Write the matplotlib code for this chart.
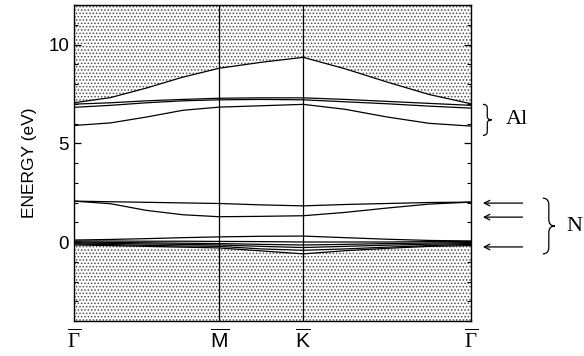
import numpy as np
import matplotlib
matplotlib.use("Agg")
import matplotlib.pyplot as plt
from matplotlib.path import Path
from matplotlib.patches import PathPatch
from matplotlib.transforms import blended_transform_factory
from matplotlib.ticker import MultipleLocator

plt.rcParams['hatch.linewidth'] = 0.7
plt.rcParams['hatch.color'] = '0.3'
plt.rcParams['mathtext.fontset'] = 'custom'
plt.rcParams['mathtext.rm'] = 'Liberation Serif'
plt.rcParams['mathtext.sf'] = 'Liberation Sans'
plt.rcParams['mathtext.it'] = 'Liberation Serif:italic'

# k-path: Gamma - M - K - Gamma (hexagonal surface BZ)
seg_len = [1.0, 1 / np.sqrt(3), 2 / np.sqrt(3)]
seg_frac = [[0, 0.25, 0.5, 0.75, 1.0], [0.5, 1.0], [0.25, 0.5, 0.75, 1.0]]
sym_labels = [r'$\overline{\Gamma}$', r'$\overline{\mathsf{M}}$',
              r'$\overline{\mathsf{K}}$', r'$\overline{\Gamma}$']

# band energies (eV) at the sampled k points
upper_edge = [7.05, 7.31, 7.8, 8.35, 8.8, 9.1, 9.35, 8.77, 8.1, 7.47, 7.0]
al_bands = [
    [6.98, 7.05, 7.15, 7.22, 7.28, 7.3, 7.3, 7.22, 7.12, 7.02, 6.92],
    [6.82, 6.92, 7.05, 7.15, 7.2, 7.22, 7.2, 7.1, 7.0, 6.88, 6.78],
    [5.9, 6.03, 6.33, 6.67, 6.83, 6.9, 6.97, 6.72, 6.33, 6.01, 5.87],
]
n_bands = [
    [2.07, 2.04, 2.01, 1.98, 1.95, 1.88, 1.83, 1.9, 1.95, 2.0, 2.02],
    [2.07, 1.94, 1.6, 1.38, 1.28, 1.3, 1.33, 1.5, 1.72, 1.92, 2.02],
]
val_bands = [
    [0.1, 0.13, 0.17, 0.22, 0.26, 0.29, 0.3, 0.22, 0.14, 0.08, 0.05],
    [0.05, 0.05, 0.04, 0.04, 0.03, 0.02, 0.0, 0.0, 0.0, 0.02, 0.03],
    [0.0, -0.02, -0.04, -0.06, -0.08, -0.12, -0.15, -0.12, -0.08, -0.05, -0.03],
    [-0.05, -0.07, -0.1, -0.12, -0.15, -0.22, -0.28, -0.22, -0.16, -0.11, -0.08],
    [-0.1, -0.13, -0.17, -0.2, -0.22, -0.35, -0.42, -0.35, -0.26, -0.18, -0.12],
]
lower_edge = [-0.15, -0.18, -0.22, -0.26, -0.3, -0.45, -0.6, -0.44, -0.32, -0.22, -0.18]

arrow_levels = [1.97, 1.26, -0.25]

# build k coordinates
k = []
start = 0.0
sym_k = [0.0]
for L, fr in zip(seg_len, seg_frac):
    k += [start + f * L for f in fr]
    start += L
    sym_k.append(start)
k = np.array(k)

fig = plt.figure(figsize=(5.84, 3.56), dpi=100)
ax = fig.add_axes([0.1267, 0.0983, 0.6798, 0.8876])
ymin, ymax = -4, 12

ax.fill_between(k, upper_edge, ymax, facecolor='white', edgecolor='0.3',
                hatch='.....', linewidth=0)
ax.fill_between(k, ymin, lower_edge, facecolor='white', edgecolor='0.3',
                hatch='.....', linewidth=0)

ax.plot(k, upper_edge, color='black', lw=0.9)
for b in al_bands + n_bands + val_bands:
    ax.plot(k, b, color='black', lw=0.9)
ax.plot(k, lower_edge, color='black', lw=0.9)

for s in sym_k[1:-1]:
    ax.axvline(s, color='black', lw=0.9)

ax.set_xlim(sym_k[0], sym_k[-1])
ax.set_ylim(ymin, ymax)
ax.set_xticks(sym_k)
ax.set_xticklabels(sym_labels, fontsize=15)
ax.tick_params(axis='x', length=0, pad=5)
ax.set_yticks([0, 5, 10])
ax.yaxis.set_minor_locator(MultipleLocator(1))
ax.tick_params(axis='y', which='major', direction='in', length=5, labelsize=13.5,
               right=True, width=0.9)
ax.tick_params(axis='y', which='minor', direction='in', length=3, right=True, width=0.8)
for sp in ax.spines.values():
    sp.set_linewidth(1.0)
ax.set_ylabel('ENERGY (eV)', fontsize=12.5, family='Liberation Sans', labelpad=8)
for lab in ax.get_yticklabels():
    lab.set_family('Liberation Sans')

# annotations (braces, arrows, labels) outside the axes
tr = blended_transform_factory(ax.transAxes, ax.transData)


def brace(x0, w, y_top, y_bot):
    ym = (y_top + y_bot) / 2
    h = y_top - y_bot
    c = 0.12 * h
    xm = x0 + w / 2
    verts = [(x0, y_top), (xm, y_top), (xm, y_top - c),
             (xm, ym + c),
             (xm, ym), (x0 + w, ym), (x0 + w, ym),
             (xm, ym), (xm, ym - c),
             (xm, y_bot + c),
             (xm, y_bot), (x0, y_bot), (x0, y_bot)]
    codes = [Path.MOVETO, Path.CURVE3, Path.CURVE3,
             Path.LINETO,
             Path.CURVE3, Path.CURVE3, Path.MOVETO,
             Path.CURVE3, Path.CURVE3,
             Path.LINETO,
             Path.CURVE3, Path.CURVE3, Path.LINETO]
    p = PathPatch(Path(verts, codes), transform=tr, fill=False, lw=0.9,
                  color='black', clip_on=False)
    ax.add_patch(p)


brace(1.030, 0.022, 6.97, 5.4)
brace(1.181, 0.030, 2.22, -0.6)
ax.text(1.088, 6.2, 'Al', transform=tr, fontsize=16, family='Liberation Serif',
        va='center', ha='left')
ax.text(1.240, 0.76, 'N', transform=tr, fontsize=16, family='Liberation Serif',
        va='center', ha='left')
for yl in arrow_levels:
    ax.annotate('', xy=(1.030, yl), xytext=(1.130, yl), xycoords=tr, textcoords=tr,
                arrowprops=dict(arrowstyle='->', lw=0.9, color='black',
                                shrinkA=0, shrinkB=0))

fig.savefig('out.png', dpi=100)
